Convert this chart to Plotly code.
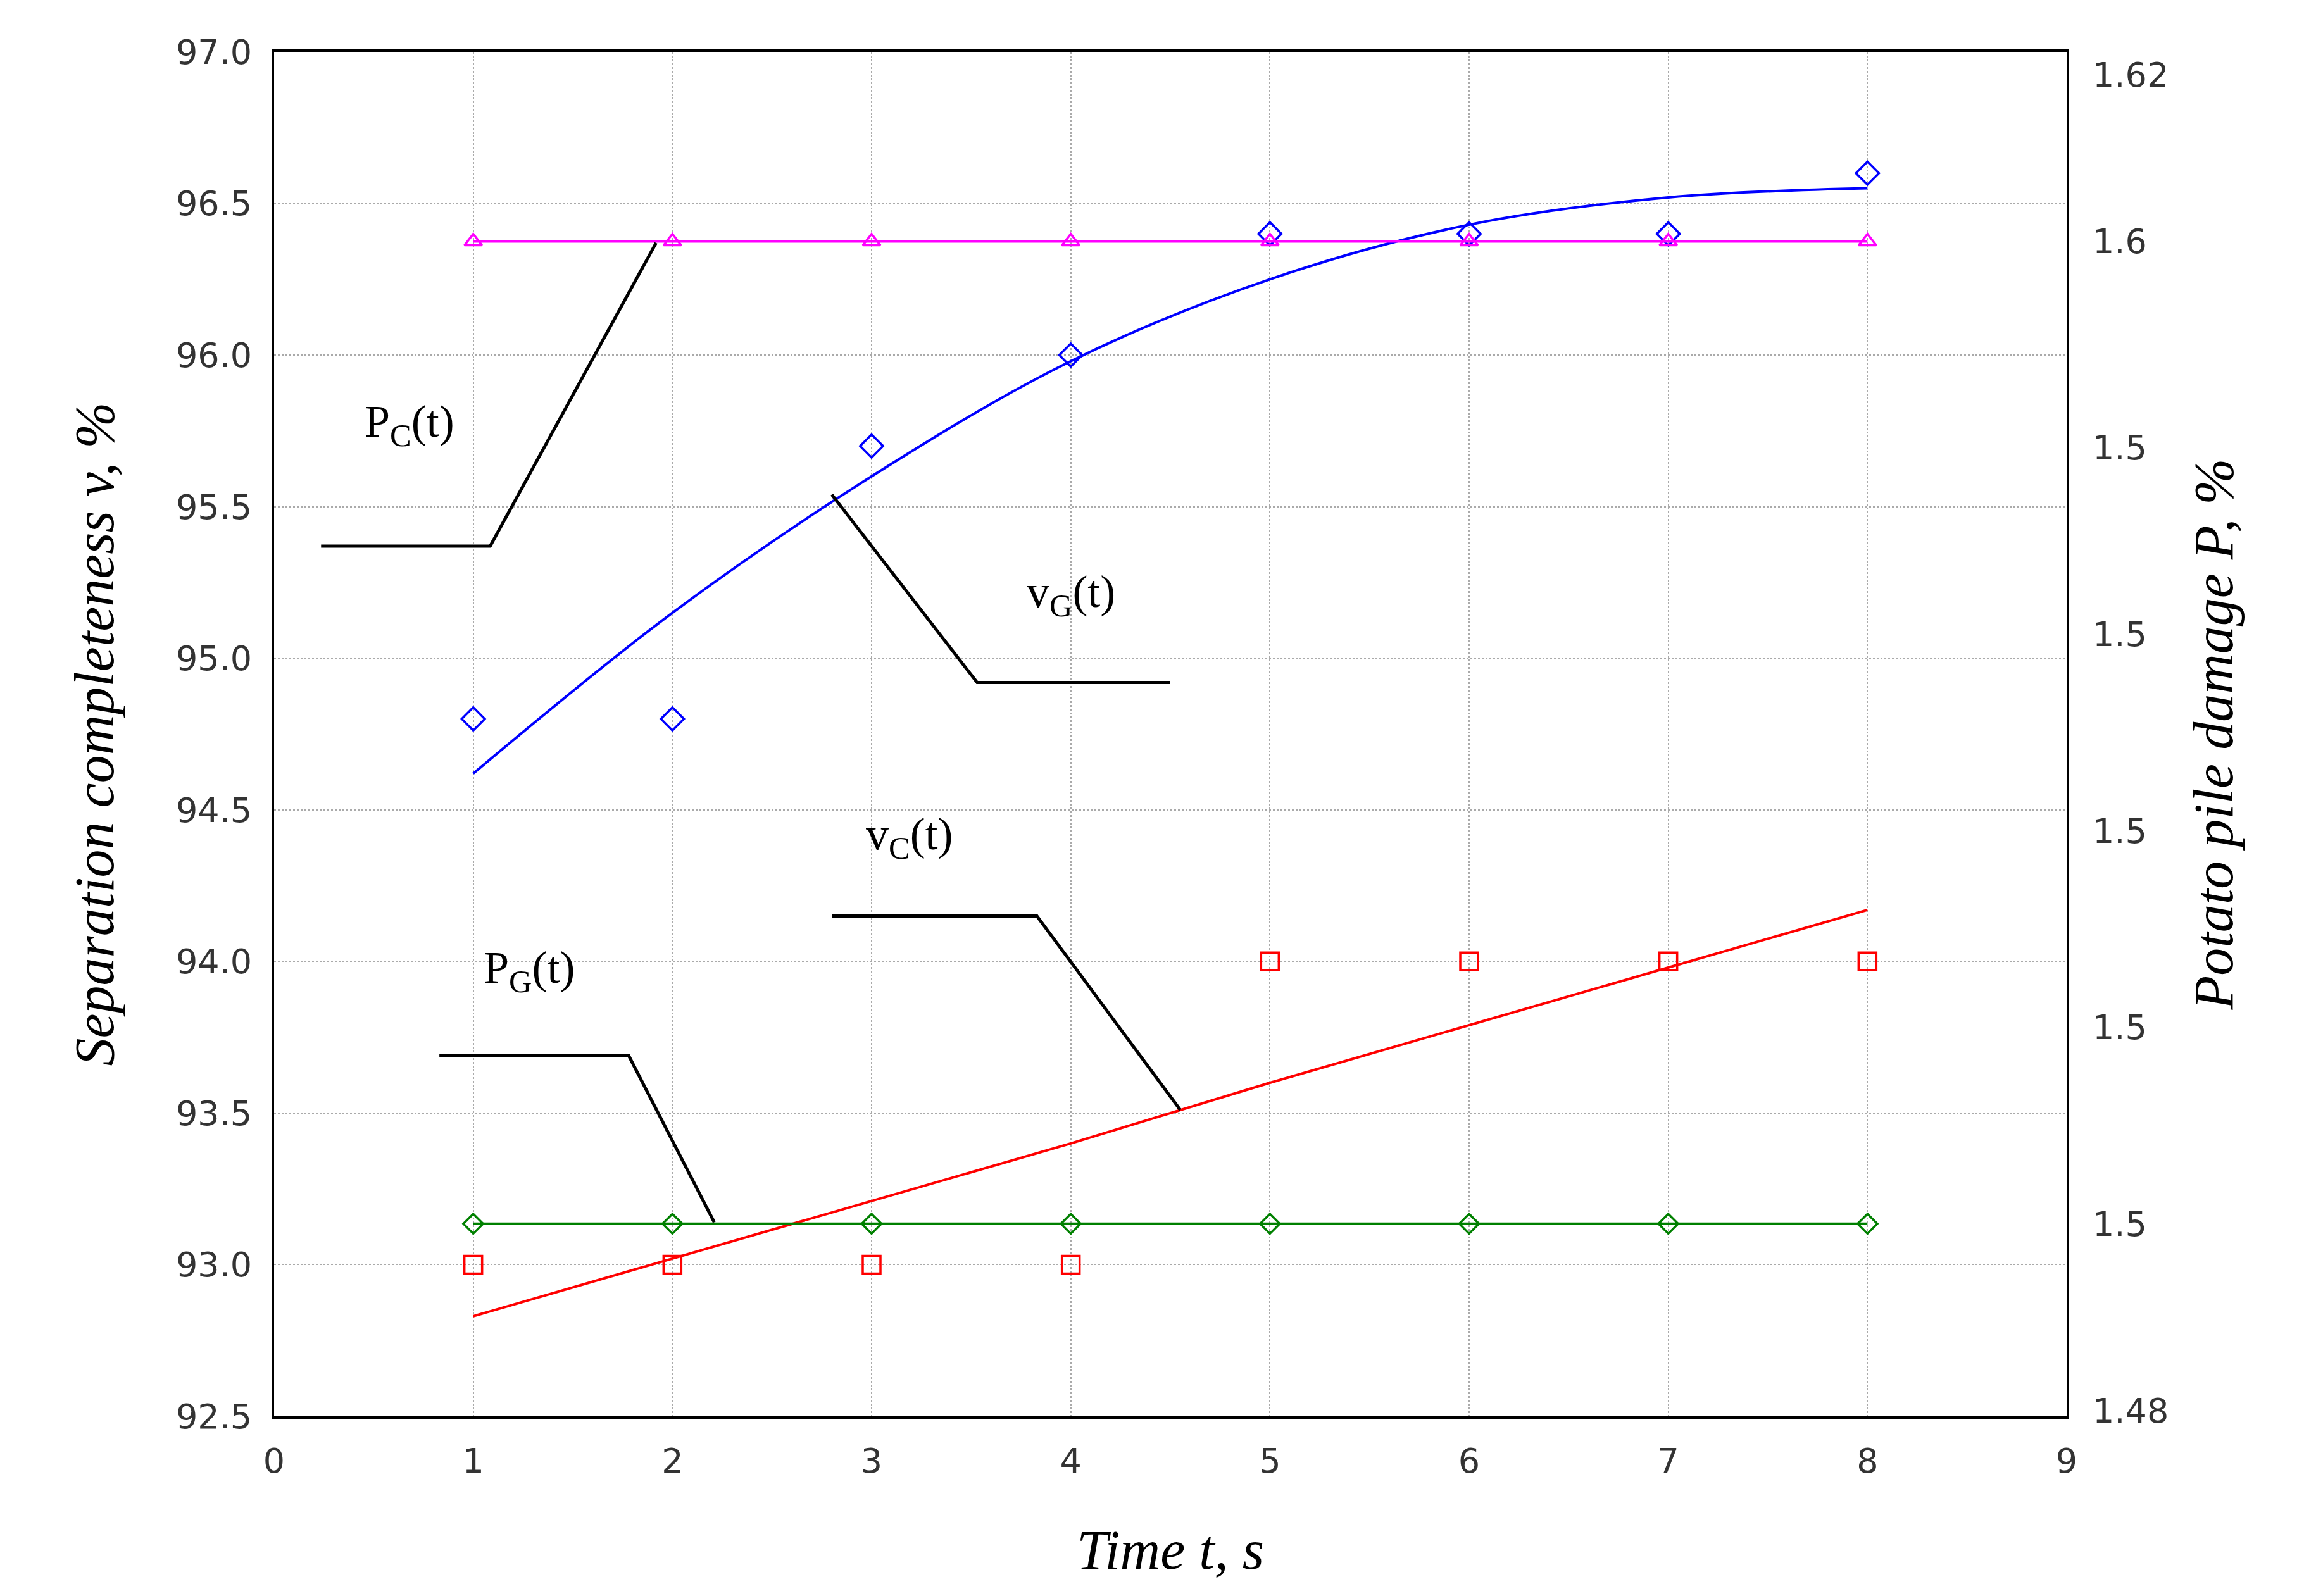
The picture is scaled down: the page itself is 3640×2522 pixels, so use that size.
import plotly.graph_objects as go

t = [1, 2, 3, 4, 5, 6, 7, 8]
vG_obs = [94.8, 94.8, 95.7, 96.0, 96.4, 96.4, 96.4, 96.6]
vG_fit = [94.62, 95.15, 95.6, 95.98, 96.25, 96.43, 96.52, 96.55]
vC_obs = [93.0, 93.0, 93.0, 93.0, 94.0, 94.0, 94.0, 94.0]
vC_fit = [92.83, 93.02, 93.21, 93.4, 93.6, 93.79, 93.98, 94.17]
PC = [1.60] * 8
PG = [1.50] * 8
y2_tickvals = [1.617, 1.60, 1.579, 1.56, 1.54, 1.52, 1.50, 1.481]
y2_ticktext = ["1.62", "1.6", "1.5", "1.5", "1.5", "1.5", "1.5", "1.48"]

fig = go.Figure()
fig.add_trace(go.Scatter(x=t, y=vG_fit, mode="lines", line=dict(color="blue", width=4, shape="spline")))
fig.add_trace(go.Scatter(x=t, y=vG_obs, mode="markers", marker=dict(symbol="diamond-open", color="blue", size=28, line=dict(width=3.5))))
fig.add_trace(go.Scatter(x=t, y=vC_fit, mode="lines", line=dict(color="red", width=4)))
fig.add_trace(go.Scatter(x=t, y=vC_obs, mode="markers", marker=dict(symbol="square-open", color="red", size=28, line=dict(width=3.5))))
fig.add_trace(go.Scatter(x=t, y=PC, yaxis="y2", mode="lines+markers", line=dict(color="magenta", width=4),
                         marker=dict(symbol="triangle-up-open", color="magenta", size=24, line=dict(width=3.5))))
fig.add_trace(go.Scatter(x=t, y=PG, yaxis="y2", mode="lines+markers", line=dict(color="green", width=4),
                         marker=dict(symbol="diamond-open", color="green", size=24, line=dict(width=3.5))))

leaders = [
    ([0.236, 1.085, 1.918], [95.37, 95.37, 96.37]),
    ([2.80, 3.53, 4.50], [95.54, 94.92, 94.92]),
    ([2.80, 3.83, 4.55], [94.15, 94.15, 93.51]),
    ([0.83, 1.78, 2.21], [93.69, 93.69, 93.14]),
]
for xs, ys in leaders:
    path = f"M {xs[0]},{ys[0]} L {xs[1]},{ys[1]} L {xs[2]},{ys[2]}"
    fig.add_shape(type="path", path=path, xref="x", yref="y", line=dict(color="black", width=5))

labels = [("P<sub>C</sub>(t)", 0.68, 95.77), ("v<sub>G</sub>(t)", 4.0, 95.21),
          ("v<sub>C</sub>(t)", 3.19, 94.41), ("P<sub>G</sub>(t)", 1.28, 93.97)]
for txt, x, y in labels:
    fig.add_annotation(x=x, y=y, text=txt, showarrow=False, font=dict(family="Liberation Serif", size=72, color="black"))

tickfont = dict(family="DejaVu Sans", size=54, color="#333")
titlefont = dict(family="Liberation Serif", size=88, color="black")
fig.update_layout(
    width=3640, height=2522, showlegend=False,
    paper_bgcolor="white", plot_bgcolor="white",
    margin=dict(l=425, r=383, t=74, b=292),
    xaxis=dict(range=[0, 9], tickvals=list(range(10)), tickfont=tickfont,
               showgrid=True, gridcolor="#aaa", griddash="dot", gridwidth=2,
               showline=True, linecolor="black", linewidth=4, mirror=True, zeroline=False,
               ticklabelstandoff=20,
               title=dict(text="<i>Time t, s</i>", font=titlefont, standoff=80)),
    yaxis=dict(range=[92.5, 97.0], dtick=0.5, tickformat=".1f", tickfont=tickfont,
               showgrid=True, gridcolor="#aaa", griddash="dot", gridwidth=2,
               showline=True, linecolor="black", linewidth=4, mirror=True, zeroline=False,
               ticklabelstandoff=20,
               title=dict(text="<i>Separation completeness v, %</i>", font=titlefont, standoff=70)),
    yaxis2=dict(overlaying="y", side="right", range=[1.4804, 1.6193],
                tickvals=y2_tickvals, ticktext=y2_ticktext, tickfont=tickfont,
                showgrid=False, zeroline=False, ticklabelstandoff=40,
                title=dict(text="<i>Potato pile damage P, %</i>", font=titlefont, standoff=40)),
)
fig.write_html("out.html")
